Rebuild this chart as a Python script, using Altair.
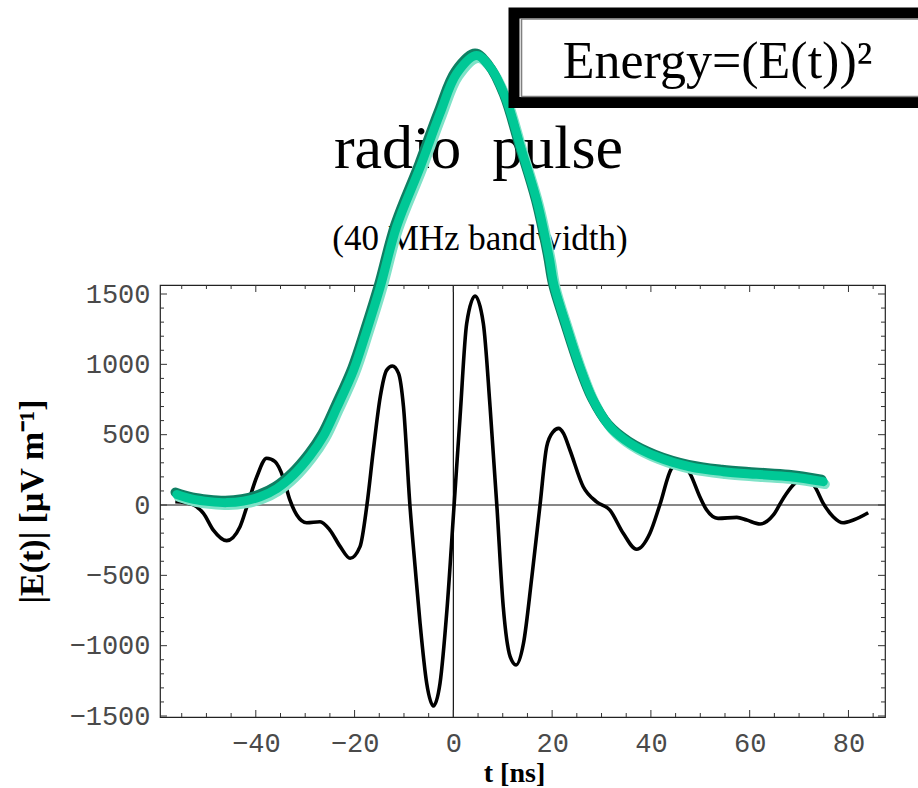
import altair as alt
import pandas as pd

# ---------------- data ----------------
# radio pulse E(t) (black curve)
t_pulse = [-56.3, -54.5, -52.6, -50.6, -48.6, -45.9, -43.2, -41.7, -39.8, -37.8,
           -36.1, -34.4, -33.1, -31.7, -29.7, -27.0, -25.0, -22.9, -20.9, -18.9,
           -17.5, -16.2, -14.8, -13.5, -12.35, -11.1, -10.1, -8.8, -7.75, -6.74,
           -5.4, -4.05, -2.7, -1.3, 0.15, 1.36, 2.7, 4.4, 6.07, 7.43,
           8.8, 10.1, 11.5, 12.7, 14.2, 15.9, 17.55, 18.9, 20.2, 21.3,
           22.3, 23.6, 26.3, 29.0, 31.7, 34.4, 37.1, 39.8, 41.8, 44.2,
           45.9, 47.9, 49.9, 51.3, 53.6, 57.4, 59.4, 62.1, 64.8, 66.8,
           68.8, 70.9, 73.2, 74.9, 76.9, 78.9, 81.0, 84.0]
e_pulse = [24, 18, 0, -59, -178, -253, -154, 0, 201, 332,
           308, 190, 36, -71, -126, -119, -178, -296, -379, -296,
           0, 391, 770, 959, 988, 936, 699, 0, -438, -841,
           -1267, -1429, -1267, -746, 0, 628, 1291, 1485, 1291, 699,
           0, -723, -1078, -1137, -983, -509, 0, 415, 520, 545,
           509, 391, 130, 23, -36, -201, -315, -201, 0, 261,
           300, 225, 59, -36, -95, -88, -107, -135, -71, 47,
           142, 190, 130, 12, -83, -126, -107, -55]

# energy envelope (E(t))^2 (green curve)
t_env = [-56.0, -52.6, -49.3, -45.9, -42.5, -39.1, -35.7, -32.4, -29.0, -26.3,
         -23.6, -20.2, -17.5, -14.8, -11.5, -6.7, -2.7, 0.7, 4.7, 7.4,
         10.5, 13.6, 17.0, 19.4, 20.4, 22.95, 25.6, 28.3, 31.7, 35.8,
         41.2, 47.9, 54.7, 61.4, 68.2, 74.9]
e_env = [75, 40, 24, 17, 28, 59, 118, 213, 350, 490,
         690, 959, 1244, 1551, 1978, 2404, 2784, 3068, 3195, 3115,
         2902, 2547, 2150, 1760, 1560, 1267, 983, 746, 557, 438,
         343, 272, 237, 218, 201, 166]

# axis ticks
x_major = [-40, -20, 0, 20, 40, 60, 80]
x_minor = [v for v in range(-55, 90, 5) if v % 20 != 0]
y_major = [-1500, -1000, -500, 0, 500, 1000, 1500]
y_minor = [v for v in range(-1400, 1500, 100) if v % 500 != 0]

title_text = ["radio\u00a0\u00a0pulse"]
subtitle_text = ["(40 MHz bandwidth)"]
box_text = ["Energy=(E(t))\u00b2"]

# ---------------- layout ----------------
W, H = 725, 432
X_DOMAIN = [-59.4, 87.4]
Y_DOMAIN = [-1507, 1564]

xs = alt.Scale(domain=X_DOMAIN, nice=False, zero=False)
ys = alt.Scale(domain=Y_DOMAIN, nice=False, zero=False)

x_axis = alt.Axis(values=x_major, format="d", ticks=False, tickSize=0, domain=False,
                  grid=False, labelPadding=13, title="t [ns]", titleX=354, titleY=56,
                  titleBaseline="middle", titleFontSize=28)
y_axis = alt.Axis(values=y_major, format="d", ticks=False, tickSize=0, domain=False,
                  grid=False, labelPadding=10, title="|E(t)| [\u03bcV m\u207b\u00b9]",
                  titleX=-128, titleY=216, titleBaseline="middle", titleAngle=270,
                  titleFontSize=34)


def X(f):
    return alt.X(f"{f}:Q", scale=xs, axis=x_axis)


def Y(f):
    return alt.Y(f"{f}:Q", scale=ys, axis=y_axis)


pulse_df = pd.DataFrame({"t": t_pulse, "v": e_pulse})
env_df = pd.DataFrame({"t": t_env, "v": e_env})

layers = []

# title texts (under the curves)
layers.append(alt.Chart(pd.DataFrame({"s": title_text})).mark_text(
    font="Liberation Serif", fontSize=62, color="black", align="center", baseline="alphabetic"
).encode(text="s:N", x=alt.value(318.5), y=alt.value(-117)))
layers.append(alt.Chart(pd.DataFrame({"s": subtitle_text})).mark_text(
    font="Liberation Serif", fontSize=35, color="black", align="center", baseline="alphabetic"
).encode(text="s:N", x=alt.value(320), y=alt.value(-35)))

# zero lines
layers.append(alt.Chart(pd.DataFrame({"v": [0]})).mark_rule(color="#111", strokeWidth=1.2)
              .encode(y=Y("v")))
layers.append(alt.Chart(pd.DataFrame({"t": [0]})).mark_rule(color="#111", strokeWidth=1.2)
              .encode(x=X("t")))

# inward frame ticks
tick_color = "#333"
for vals, ln in [(x_major, 7), (x_minor, 4)]:
    d = pd.DataFrame({"t": vals})
    layers.append(alt.Chart(d).mark_rule(color=tick_color, strokeWidth=1)
                  .encode(x=X("t"), y=alt.value(H), y2=alt.value(H - ln)))
    layers.append(alt.Chart(d).mark_rule(color=tick_color, strokeWidth=1)
                  .encode(x=X("t"), y=alt.value(0), y2=alt.value(ln)))
for vals, ln in [(y_major, 7), (y_minor, 4)]:
    d = pd.DataFrame({"v": vals})
    layers.append(alt.Chart(d).mark_rule(color=tick_color, strokeWidth=1)
                  .encode(y=Y("v"), x=alt.value(0), x2=alt.value(ln)))
    layers.append(alt.Chart(d).mark_rule(color=tick_color, strokeWidth=1)
                  .encode(y=Y("v"), x=alt.value(W), x2=alt.value(W - ln)))

# black pulse
layers.append(alt.Chart(pulse_df).mark_line(color="black", strokeWidth=3.6, interpolate="monotone",
                                            strokeJoin="round")
              .encode(x=X("t"), y=Y("v")))

# green envelope: light edge, dark edge, main band
layers.append(alt.Chart(env_df).mark_line(color="#7fe3c8", strokeWidth=9.5, interpolate="catmull-rom",
                                          strokeCap="round", xOffset=1.8, yOffset=2.6)
              .encode(x=X("t"), y=Y("v")))
layers.append(alt.Chart(env_df).mark_line(color="#0f7f63", strokeWidth=9.5, interpolate="catmull-rom",
                                          strokeCap="round", xOffset=-1.5, yOffset=-2.2)
              .encode(x=X("t"), y=Y("v")))
layers.append(alt.Chart(env_df).mark_line(color="#00c896", strokeWidth=9, interpolate="catmull-rom",
                                          strokeCap="round")
              .encode(x=X("t"), y=Y("v")))

# Energy box
box_df = pd.DataFrame({"k": [0]})
layers.append(alt.Chart(box_df).mark_rect(fill="white", stroke="black", strokeWidth=11)
              .encode(x=alt.value(354), x2=alt.value(820), y=alt.value(-272), y2=alt.value(-182.5)))
layers.append(alt.Chart(box_df).mark_rect(fill="white", stroke="#808080", strokeWidth=1.6)
              .encode(x=alt.value(361.5), x2=alt.value(820), y=alt.value(-266), y2=alt.value(-188.5)))
layers.append(alt.Chart(pd.DataFrame({"s": box_text})).mark_text(
    font="Liberation Serif", fontSize=52, color="black", align="center", baseline="alphabetic"
).encode(text="s:N", x=alt.value(557.5), y=alt.value(-207)))

chart = alt.layer(*layers).properties(
    width=W, height=H,
    padding={"left": 160, "top": 285, "right": 33, "bottom": 71},
    autosize=alt.AutoSizeParams(type="none"),
).configure_view(
    stroke="#222", strokeWidth=1.2
).configure_axis(
    labelFont="Liberation Mono", labelFontSize=27, labelColor="#4a4a4a",
    titleFont="Liberation Serif", titleFontWeight="bold", titleColor="black"
)

chart.save("out.html", embed_options={"renderer": "svg", "actions": False})
